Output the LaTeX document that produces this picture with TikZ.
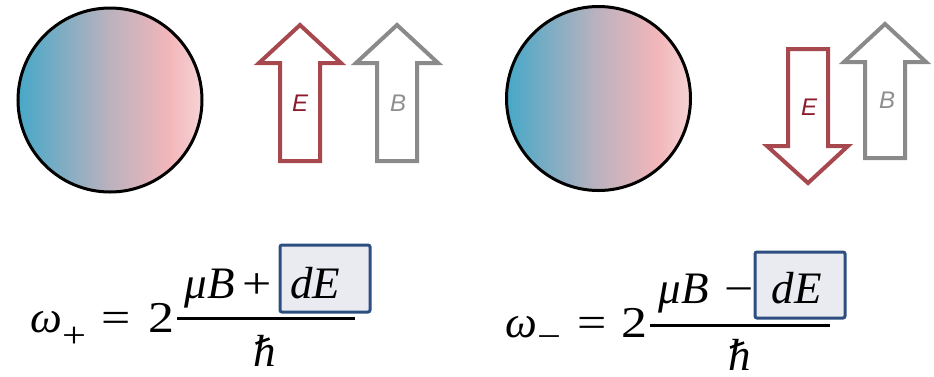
\documentclass[tikz,border=0pt]{standalone}
\usepackage{fontspec}
\newfontfamily\lblfont{Liberation Sans}
\newfontfamily\tms{Liberation Serif}
\newfontfamily\tmswide[FakeStretch=1.18]{Liberation Serif}
\usetikzlibrary{shadings}
\definecolor{cA}{RGB}{70,168,200}
\definecolor{cM}{RGB}{188,178,190}
\definecolor{cP}{RGB}{242,182,186}
\definecolor{cR}{RGB}{246,212,213}
\definecolor{eArrow}{RGB}{166,72,78}
\definecolor{eText}{RGB}{140,28,44}
\definecolor{bArrow}{RGB}{138,138,138}
\definecolor{bText}{RGB}{142,142,142}
\definecolor{boxLine}{RGB}{44,78,128}
\definecolor{boxFill}{RGB}{233,235,241}
\pgfdeclarehorizontalshading{ballshade}{100bp}{color(0bp)=(cA); color(25bp)=(cA); color(50bp)=(cM); color(66bp)=(cP); color(75bp)=(cR); color(100bp)=(cR)}
\tikzset{
  ball/.style={shading=ballshade, draw=black, line width=3pt},
  Earrow/.style={draw=eArrow, fill=white, line width=4pt, line join=miter},
  Barrow/.style={draw=bArrow, fill=white, line width=4pt, line join=miter},
  Elbl/.style={inner sep=0pt, text=eText, font=\lblfont\itshape\fontsize{24}{28}\selectfont},
  Blbl/.style={inner sep=0pt, text=bText, font=\lblfont\itshape\fontsize{24}{28}\selectfont},
  mit/.style={inner sep=0pt, font=\tms\itshape\fontsize{45}{50}\selectfont},
  mup/.style={inner sep=0pt, font=\tmswide\fontsize{44}{50}\selectfont},
  msub/.style={inner sep=0pt, font=\tmswide\fontsize{36}{40}\selectfont},
  hbarstroke/.style={line width=2.6pt, draw=black},
  dEbox/.style={draw=boxLine, fill=boxFill, line width=3pt, rounded corners=2pt, inner sep=0pt},
  fracbar/.style={line width=3pt, draw=black}
}
\begin{document}
\begin{tikzpicture}[x=1pt,y=-1pt]
\useasboundingbox (0,0) rectangle (934,376);
% left panel
\shade[ball] (110,100) circle (92pt);
\draw[Earrow] (300,25) -- (341,63) -- (320,63) -- (320,161) -- (280,161) -- (280,63) -- (259,63) -- cycle;
\draw[Barrow] (397,25) -- (438,63) -- (417,63) -- (417,161) -- (377,161) -- (377,63) -- (356,63) -- cycle;
\node[Elbl] (E1) at (300,103) {E};
\node[Blbl] (B1) at (398,103) {B};
% right panel
\shade[ball] (598.5,98.5) circle (92pt);
\draw[Earrow] (808,183) -- (848,146) -- (828,146) -- (828,49) -- (788,49) -- (788,146) -- (767,146) -- cycle;
\draw[Barrow] (885,24) -- (926,62) -- (905,62) -- (905,158) -- (865,158) -- (865,62) -- (844,62) -- cycle;
\node[Elbl] (E2) at (809,107) {E};
\node[Blbl] (B2) at (887,100) {B};
% left equation
\node[dEbox, minimum width=90pt, minimum height=67pt] (box1) at (325,278.5) {};
\node[mit, anchor=base] (om1) at (46,332) {ω};
\node[msub] (sb1) at (74,337) {+};
\node[mup, anchor=base] (eq1) at (116.5,332) {=};
\node[mup, anchor=base] (two1) at (161,332) {2};
\node[mit, anchor=base] (mu1) at (210,298) {μB};
\node[mup, anchor=base] (pl1) at (257.5,298) {+};
\node[mit, anchor=base] (dE1) at (315,298) {dE};
\draw[fracbar] (177,318) -- (355,318);
\node[mit, anchor=base, text depth=0pt] (hb1) at (265,366) {h};
\draw[hbarstroke] ([shift={(2,9)}]hb1.north west) -- ([shift={(16,4)}]hb1.north west);
% right equation
\node[dEbox, minimum width=90pt, minimum height=66pt] (box2) at (800,285) {};
\node[mit, anchor=base] (om2) at (521,337) {ω};
\node[msub] (sb2) at (549,342) {−};
\node[mup, anchor=base] (eq2) at (592,337) {=};
\node[mup, anchor=base] (two2) at (634.5,337) {2};
\node[mit, anchor=base] (mu2) at (684,303) {μB};
\node[mup, anchor=base] (mi2) at (739.5,303) {−};
\node[mit, anchor=base] (dE2) at (796.5,303) {dE};
\draw[fracbar] (650,325) -- (830,325);
\node[mit, anchor=base, text depth=0pt] (hb2) at (739.5,370) {h};
\draw[hbarstroke] ([shift={(2,9)}]hb2.north west) -- ([shift={(16,4)}]hb2.north west);
\end{tikzpicture}
\end{document}
